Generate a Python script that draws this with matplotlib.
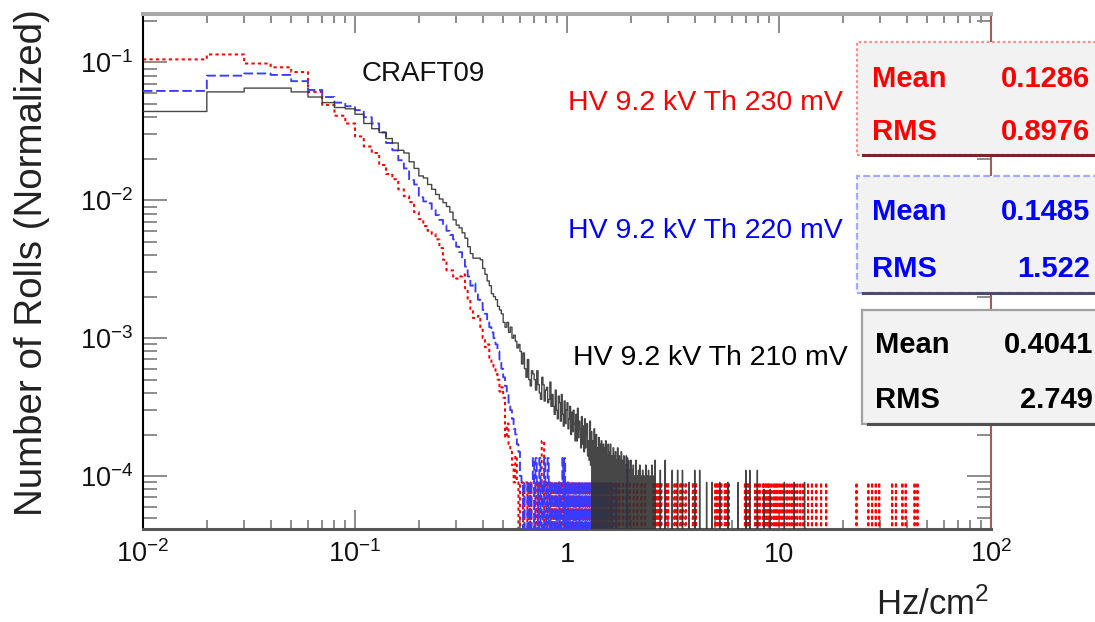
import numpy as np
import matplotlib
matplotlib.use("Agg")
import matplotlib.pyplot as plt
from matplotlib.patches import Rectangle
from matplotlib.lines import Line2D
from matplotlib.ticker import FixedLocator, FixedFormatter, LogLocator, NullFormatter

plt.rcParams['font.family'] = ['Liberation Sans', 'DejaVu Sans']
plt.rcParams['mathtext.fontset'] = 'custom'
plt.rcParams['mathtext.rm'] = 'Liberation Sans'
plt.rcParams['mathtext.it'] = 'Liberation Sans:italic'
plt.rcParams['mathtext.bf'] = 'Liberation Sans:bold'
plt.rcParams['mathtext.default'] = 'regular'

# ---------------- data ----------------
bin_width = 0.01          # Hz/cm^2, histogram bin width (bin k covers [0.01k, 0.01(k+1)])
n_bins = 9999             # bins from 0.01 to 100

# HV 9.2 kV Th 230 mV (red): bins k = 1..55, normalized
red_body = [0.105, 0.114, 0.098, 0.092, 0.085, 0.061, 0.049, 0.041, 0.036, 0.029,
            0.0245, 0.022, 0.018, 0.0155, 0.0142, 0.012, 0.0107, 0.0097, 0.0082, 0.0073,
            0.0065, 0.006, 0.0057, 0.0052, 0.0045, 0.0037, 0.0031, 0.0031, 0.0028, 0.0027,
            0.0028, 0.0029, 0.0023, 0.0019, 0.0016, 0.0014, 0.0014, 0.00145, 0.0012, 0.001,
            0.00086, 0.0009, 0.00072, 0.00065, 0.00062, 0.00055, 0.0005, 0.00041, 0.00044, 0.00037,
            0.00019, 0.00024, 0.00017, 0.00015, 0.00012]
# red tail, bins k = 56..149, in units of 1e-4
red_tail_first_bin = 56
red_tail_e4 = [0.9, 1.4, 0.9, 0, 0.9, 0.9, 0, 0.9, 0.9, 0,
               0.9, 0, 0.9, 0.9, 0, 0.9, 0, 0.9, 0, 0.9,
               1.8, 1.8, 0, 0.9, 0, 0.9, 0.9, 0, 0.9, 0,
               0.9, 0, 0.9, 0, 0.9, 0.9, 0, 0.9, 0, 0.9,
               0, 0.9, 0, 0.9, 0.9, 0, 0.9, 0, 0.9, 0,
               0.9, 0, 0, 0.9, 0, 0.9, 0, 0.9, 0, 0.9,
               0, 0.9, 0, 0, 0.9, 0, 0.9, 0, 0.9, 0,
               0, 0.9, 0, 0.9, 0, 0, 0.9, 0, 0.9, 0,
               0.9, 0, 0, 0.9, 0, 0.9, 0, 0, 0.9, 0,
               0.9, 0, 0.9, 0]
# isolated single-roll bins (Hz/cm^2) and the height of one roll (1e-4 units)
red_sparse_x = [1.50, 1.53, 1.57, 1.62, 1.66, 1.71, 1.76, 1.83, 1.90, 1.97, 2.06, 2.14,
                2.24, 2.33, 2.55, 2.60, 2.66, 2.72, 2.78, 2.92, 2.99, 3.21, 3.29, 3.42,
                3.50, 3.62, 3.92, 4.05, 5.00, 5.10, 5.22, 5.34, 5.55, 5.66, 5.78, 6.90,
                7.05, 7.20, 7.70, 7.90, 8.10, 8.40, 8.52, 8.70, 8.85, 9.00, 9.20, 9.45,
                9.65, 9.85, 10.10, 10.35, 10.60, 10.90, 11.20, 11.50, 11.85, 12.20, 12.60,
                13.00, 13.70, 14.30, 15.00, 15.80, 16.70, 23.20, 26.40, 27.50, 28.60,
                29.70, 34.20, 35.60, 38.20, 39.60, 43.60, 45.00]
red_one_roll_e4 = 0.9

# HV 9.2 kV Th 220 mV (blue): bins k = 1..59
blue_body = [0.062, 0.080, 0.083, 0.081, 0.073, 0.063, 0.056, 0.051, 0.048, 0.045,
             0.040, 0.036, 0.031, 0.026, 0.023, 0.0195, 0.017, 0.014, 0.013, 0.0105,
             0.0098, 0.0095, 0.0085, 0.0078, 0.0072, 0.0066, 0.006, 0.0056, 0.0052, 0.0046,
             0.0042, 0.0038, 0.0033, 0.0028, 0.0024, 0.0025, 0.0021, 0.0019, 0.0018, 0.0016,
             0.0015, 0.0013, 0.0012, 0.0011, 0.001, 0.0009, 0.0008, 0.0007, 0.0006, 0.00052,
             0.00045, 0.0004, 0.00034, 0.0003, 0.00026, 0.00022, 0.0002, 0.00017, 0.00015]
blue_tail_first_bin = 60
blue_tail_e4 = [1.0, 0.9, 0, 0.9, 0.9, 0, 0.9, 0, 0.9, 1.35,
                0, 1.35, 0.9, 0, 1.35, 0, 0.9, 0, 1.35, 0.9,
                0, 1.35, 0, 0.9, 0, 0.9, 0.9, 0, 0.9, 0,
                0.9, 0, 0.9, 0, 0.9, 1.35, 0, 1.35, 0, 0.9,
                0, 0.9, 0, 0.9, 0, 0, 0.9, 0, 0.9, 0,
                0.9, 0, 0, 0.9, 0, 0.9, 0, 0, 0.9, 0,
                0, 0.9, 0, 0, 0.9, 0, 0, 0.9, 0, 0,
                0.9, 0, 0, 0.9, 0, 0, 0.9, 0, 0, 0.9,
                0, 0, 0.9, 0, 0, 0, 0.9, 0, 0, 0,
                0.9, 0, 0, 0, 0.9, 0, 0, 0, 0, 0.9]
blue_sparse_x = [1.62, 1.70, 1.92]
blue_sparse_e4 = [0.9, 0.9, 1.35]

# HV 9.2 kV Th 210 mV (black): bins k = 1..55
black_body = [0.044, 0.061, 0.065, 0.065, 0.061, 0.056, 0.051, 0.047, 0.046, 0.042,
              0.036, 0.033, 0.031, 0.028, 0.026, 0.023, 0.022, 0.019, 0.017, 0.015,
              0.0145, 0.013, 0.012, 0.011, 0.0102, 0.0096, 0.009, 0.0082, 0.0072, 0.0066,
              0.0063, 0.0058, 0.0053, 0.0046, 0.0041, 0.0038, 0.0038, 0.0038, 0.0037, 0.0032,
              0.0029, 0.0026, 0.0024, 0.0021, 0.002, 0.0019, 0.0017, 0.0016, 0.0015, 0.0013,
              0.0012, 0.0013, 0.0011, 0.0012, 0.001]
black_tail_first_bin = 56
black_tail_e4 = [10.5, 9.5, 8.5, 9.0,
                 8.0, 6.5, 7.8, 6.0, 5.2, 7.0, 5.0, 4.5, 5.8, 5.5,
                 5.0, 4.2, 5.8, 4.6, 4.0, 3.6, 5.2, 4.6, 3.5, 4.2,
                 4.4, 3.4, 3.6, 4.8, 3.2, 3.9, 3.2, 2.8, 4.2, 3.0,
                 2.6, 3.8, 3.4, 2.5, 3.9, 2.8, 2.3, 3.5, 2.4, 3.0,
                 3.4, 2.2, 2.6, 3.2, 2.0, 2.9, 2.1, 3.0, 2.4, 1.8,
                 2.8, 1.8, 3.1, 1.9, 2.5, 2.2, 1.6, 2.7, 1.7, 2.3,
                 1.5, 2.6, 1.6, 2.0, 2.4, 1.4, 1.8, 1.3, 2.5, 1.2,
                 2.1, 0, 1.8, 0, 2.2, 0, 1.7, 2.0, 0, 1.6,
                 0, 1.9, 0, 1.7, 0, 1.8, 1.5, 0, 1.7, 0,
                 1.6, 0, 1.8, 0, 1.4, 0, 1.7, 0, 1.5, 0,
                 1.7, 0, 1.4, 0, 0, 1.6, 0, 1.4, 0, 1.5,
                 0, 1.3, 0, 1.6, 0, 0, 1.4, 0, 1.3, 0,
                 1.5, 0, 0, 1.3, 0, 1.4, 0, 0, 1.2, 0,
                 1.4, 0, 1.2, 0, 0, 1.3, 0, 1.1, 0, 0,
                 1.3, 0, 0, 1.1, 0, 1.2, 0, 0, 1.0, 0,
                 0, 1.3, 0, 0, 1.0, 0, 0, 1.1, 0, 0,
                 1.2, 0, 0, 0, 1.0, 0, 0, 1.1, 0, 0,
                 0, 1.0, 0, 0, 0, 1.2, 0, 0, 0, 1.0,
                 0, 0, 1.1, 0, 0, 0, 0, 1.0, 0, 0,
                 0, 1.2, 0, 0, 0, 0, 1.0, 0, 0, 0]
black_sparse_x = [2.60, 2.75, 2.90, 3.13, 3.32, 3.50, 3.76, 4.00, 4.22, 4.55, 4.83,
                  5.25, 5.73, 6.41, 6.97, 7.28, 7.90, 8.50, 9.10, 10.6, 11.8, 13.2]
black_sparse_e4 = [1.3, 1.1, 1.3, 1.1, 1.1, 1.1, 0.9, 1.1, 1.1, 0.9, 0.9,
                   0.9, 0.9, 0.9, 1.1, 1.1, 1.1, 0.8, 0.8, 0.9, 0.9, 0.9]

labels = ["HV 9.2 kV Th 230 mV", "HV 9.2 kV Th 220 mV", "HV 9.2 kV Th 210 mV"]
stat_means = ["0.1286", "0.1485", "0.4041"]
stat_rms = ["0.8976", "1.522", "2.749"]
x_tick_values = [0.01, 0.1, 1, 10, 100]
x_tick_labels = [r'$10^{-2}$', r'$10^{-1}$', '1', '10', r'$10^{2}$']
y_tick_values = [1e-4, 1e-3, 1e-2, 1e-1]
y_tick_labels = [r'$10^{-4}$', r'$10^{-3}$', r'$10^{-2}$', r'$10^{-1}$']

# ---------------- figure ----------------
W, H = 1095, 622
fig = plt.figure(figsize=(W / 100, H / 100), dpi=100)
fig.patch.set_facecolor('white')


def fx(px):
    return px / W


def fy(py):
    return 1 - py / H


ax = fig.add_axes([fx(143), fy(529), fx(991) - fx(143), fy(14) - fy(529)])
ax.set_xscale('log')
ax.set_yscale('log')
ymin, ymax = 4.13e-5, 0.224

edges = bin_width * np.arange(1, n_bins + 2)


def build(body, tail_first, tail_e4, sparse_x, sparse_e4):
    v = np.zeros(n_bins)
    v[:len(body)] = body
    t = np.asarray(tail_e4, dtype=float) * 1e-4
    v[tail_first - 1:tail_first - 1 + len(t)] = t
    for x, h in zip(sparse_x, sparse_e4):
        v[int(round(x / bin_width)) - 1] = h * 1e-4
    return v


red = build(red_body, red_tail_first_bin, red_tail_e4, red_sparse_x,
            [red_one_roll_e4] * len(red_sparse_x))
blue = build(blue_body, blue_tail_first_bin, blue_tail_e4, blue_sparse_x, blue_sparse_e4)
black = build(black_body, black_tail_first_bin, black_tail_e4, black_sparse_x, black_sparse_e4)


def draw(v, **kw):
    y = np.where(v > 0, v, 1e-7)
    ax.step(edges, np.append(y, y[-1]), where='post', **kw)


draw(red, color='#ff0000', lw=1.45, linestyle=(0, (1.6, 1.6)), zorder=2)
draw(blue, color='#3a3aff', lw=1.35, linestyle=(0, (5, 2)), zorder=3)
draw(black, color='#333333', lw=1.0, alpha=0.9, zorder=4)

ax.set_xlim(0.01, 100)
ax.set_ylim(ymin, ymax)

ax.xaxis.set_major_locator(FixedLocator(x_tick_values))
ax.xaxis.set_major_formatter(FixedFormatter(x_tick_labels))
ax.xaxis.set_minor_locator(LogLocator(base=10, subs=np.arange(2, 10)))
ax.xaxis.set_minor_formatter(NullFormatter())
ax.yaxis.set_major_locator(FixedLocator(y_tick_values))
ax.yaxis.set_major_formatter(FixedFormatter(y_tick_labels))
ax.yaxis.set_minor_locator(LogLocator(base=10, subs=np.arange(2, 10)))
ax.yaxis.set_minor_formatter(NullFormatter())

ax.tick_params(which='both', direction='in', top=True, right=True,
               color='#8c8c8c', width=1.4, labelcolor='#111111', labelsize=19.5)
ax.tick_params(axis='x', which='major', length=13.5, pad=24)
ax.tick_params(axis='x', which='minor', length=6.5)
ax.tick_params(axis='y', which='major', length=17, pad=7)
ax.tick_params(axis='y', which='minor', length=10)
for lab in ax.get_xticklabels():
    lab.set_va('baseline')

ax.spines['left'].set_color('#000000')
ax.spines['left'].set_linewidth(1.5)
ax.spines['bottom'].set_color('#555555')
ax.spines['bottom'].set_linewidth(2.2)
ax.spines['top'].set_color('#a8a8a8')
ax.spines['top'].set_linewidth(2.9)
ax.spines['right'].set_color('#a65a5a')
ax.spines['right'].set_linewidth(1.5)

# axis titles
fig.text(fx(32), fy(9), 'Number of Rolls (Normalized)', rotation=90,
         ha='center', va='top', fontsize=27.7, color='#222222')
fig.text(fx(989), fy(615), r'Hz/cm$^{2}$', ha='right', va='baseline',
         fontsize=25, color='#222222')

# annotations
fig.text(fx(362), fy(81), 'CRAFT09', ha='left', va='baseline', fontsize=20, color='#111111')
series_colors = ['#ff0000', '#0000ff', '#000000']
label_pos = [(568, 110), (568, 238), (573, 365)]
for txt, col, (px, py) in zip(labels, series_colors, label_pos):
    fig.text(fx(px), fy(py), txt, ha='left', va='baseline', fontsize=20.5, color=col)

# stat boxes
boxes = [  # left, top, bottom, edge colour, edge style, shadow colour, text left, mean baseline, rms baseline
    (857, 42, 155, '#ff8a8a', (0, (1.2, 1.2)), '#7a2626', 872, 87, 140),
    (857, 176, 293, '#a8a8ff', (0, (3, 1.5)), '#4c4c6c', 872, 220, 277),
    (862, 310, 424, '#a0a0a0', 'solid', '#505050', 875, 353, 408),
]
val_right = [1090, 1090, 1093]
for i, (l, t, b, ec, ls, sc, tl, mb, rb) in enumerate(boxes):
    rect = Rectangle((fx(l), fy(b)), fx(1120) - fx(l), fy(t) - fy(b),
                     transform=fig.transFigure, facecolor='#f2f2f2', edgecolor=ec,
                     linewidth=1.6, linestyle=ls, zorder=5)
    fig.add_artist(rect)
    shadow = Line2D([fx(l + 6), fx(1100)], [fy(b), fy(b)], transform=fig.transFigure,
                    color=sc, lw=2.2, zorder=6)
    fig.add_artist(shadow)
    col = series_colors[i]
    fig.text(fx(tl), fy(mb), 'Mean', ha='left', va='baseline', fontsize=21,
             fontweight='bold', color=col, zorder=7)
    fig.text(fx(tl), fy(rb), 'RMS', ha='left', va='baseline', fontsize=21,
             fontweight='bold', color=col, zorder=7)
    fig.text(fx(val_right[i]), fy(mb), stat_means[i], ha='right', va='baseline',
             fontsize=21, fontweight='bold', color=col, zorder=7)
    fig.text(fx(val_right[i]), fy(rb), stat_rms[i], ha='right', va='baseline',
             fontsize=21, fontweight='bold', color=col, zorder=7)

fig.savefig('out.png', dpi=100)
